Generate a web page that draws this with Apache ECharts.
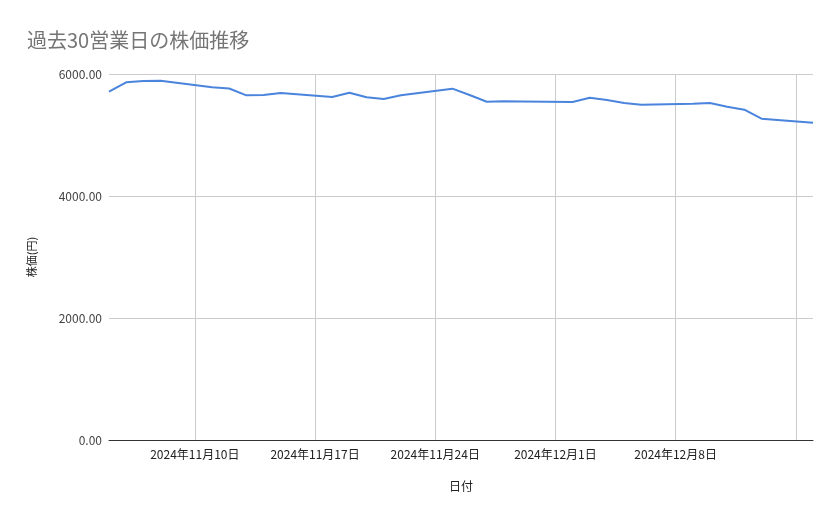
<!DOCTYPE html>
<html>
<head>
<meta charset="utf-8">
<script src="https://cdn.jsdelivr.net/npm/echarts@6/dist/echarts.min.js"></script>
<style>
  html, body { margin: 0; padding: 0; background: #fff; }
  #main { width: 839px; height: 519px; }
</style>
</head>
<body>
<div id="main"></div>
<script>
// 営業日と終値
const tradeDates = [
  '2024-11-05', '2024-11-06', '2024-11-07', '2024-11-08',
  '2024-11-11', '2024-11-12', '2024-11-13', '2024-11-14', '2024-11-15',
  '2024-11-18', '2024-11-19', '2024-11-20', '2024-11-21', '2024-11-22',
  '2024-11-25', '2024-11-26', '2024-11-27', '2024-11-28', '2024-11-29',
  '2024-12-02', '2024-12-03', '2024-12-04', '2024-12-05', '2024-12-06',
  '2024-12-09', '2024-12-10', '2024-12-11', '2024-12-12', '2024-12-13',
  '2024-12-16'
];
const prices = [
  5710, 5864, 5885, 5890,
  5782, 5762, 5650, 5654, 5688,
  5623, 5694, 5618, 5590, 5650,
  5760, 5655, 5546, 5552, 5550,
  5541, 5612, 5574, 5525, 5497,
  5512, 5525, 5464, 5415, 5267,
  5202
];
// 縦の目盛り線（日曜）とラベル
const gridDates = ['2024-11-10', '2024-11-17', '2024-11-24', '2024-12-01', '2024-12-08', '2024-12-15'];
const labelDates = ['2024-11-10', '2024-11-17', '2024-11-24', '2024-12-01', '2024-12-08'];
const yTicks = [0, 2000, 4000, 6000];

// 暦日のカテゴリを作る（週末は null でつなぐ）
function pad(n) { return (n < 10 ? '0' : '') + n; }
function toKey(d) {
  return d.getUTCFullYear() + '-' + pad(d.getUTCMonth() + 1) + '-' + pad(d.getUTCDate());
}
const days = [];
let cur = new Date(tradeDates[0] + 'T00:00:00Z');
const last = new Date(tradeDates[tradeDates.length - 1] + 'T00:00:00Z');
while (cur <= last) {
  days.push(toKey(cur));
  cur = new Date(cur.getTime() + 86400000);
}
const series = days.map(function (d) {
  const i = tradeDates.indexOf(d);
  return i >= 0 ? prices[i] : null;
});

function jpDate(v) {
  const p = v.split('-');
  return p[0] + '年' + parseInt(p[1], 10) + '月' + parseInt(p[2], 10) + '日';
}

const chart = echarts.init(document.getElementById('main'));
const font = '"Noto Sans CJK JP", "Noto Sans", sans-serif';

const option = {
  animation: false,
  textStyle: { fontFamily: font },
  title: {
    text: '過去30営業日の株価推移',
    left: 22,
    top: 25,
    textStyle: { fontFamily: font, fontSize: 20, fontWeight: 'normal', color: '#757575' }
  },
  grid: { left: 109, right: 26, top: 74, bottom: 79 },
  xAxis: {
    type: 'category',
    data: days,
    boundaryGap: false,
    name: '日付',
    nameLocation: 'middle',
    nameGap: 40,
    nameTextStyle: { fontSize: 12, color: '#222' },
    axisLine: { lineStyle: { color: '#333', width: 1 } },
    axisTick: { show: false },
    axisLabel: {
      interval: function (index, value) { return labelDates.indexOf(value) >= 0; },
      formatter: function (v) { return jpDate(v); },
      color: '#222',
      fontSize: 12,
      margin: 8
    },
    splitLine: {
      show: true,
      interval: function (index, value) { return gridDates.indexOf(value) >= 0; },
      lineStyle: { color: '#cccccc', width: 1 }
    }
  },
  yAxis: {
    type: 'value',
    min: yTicks[0],
    max: yTicks[yTicks.length - 1],
    interval: yTicks[1] - yTicks[0],
    name: '株価(円)',
    nameLocation: 'middle',
    nameGap: 72,
    nameTextStyle: { fontSize: 11, color: '#222' },
    axisLine: { show: false },
    axisTick: { show: false },
    axisLabel: {
      formatter: function (v) { return v.toFixed(2); },
      color: '#444',
      fontSize: 12,
      margin: 7
    },
    splitLine: { lineStyle: { color: '#cccccc', width: 1 } }
  },
  series: [{
    name: '株価',
    type: 'line',
    data: series,
    connectNulls: true,
    showSymbol: false,
    lineStyle: { color: '#4a84dc', width: 2 },
    itemStyle: { color: '#4a84dc' }
  }]
};
chart.setOption(option);
</script>
</body>
</html>
